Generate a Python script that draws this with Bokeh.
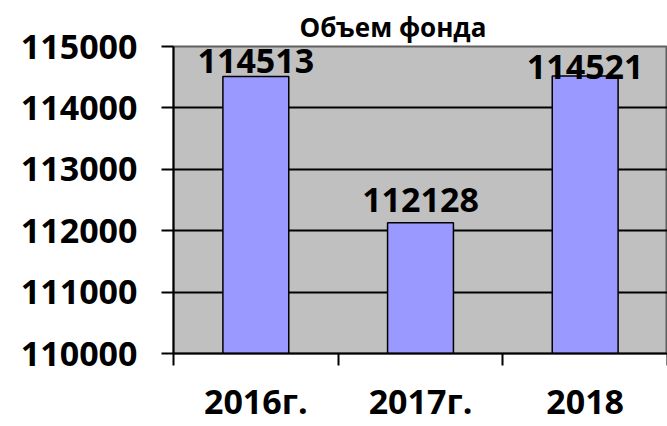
from bokeh.plotting import figure
from bokeh.models import ColumnDataSource, FixedTicker, Range1d
from bokeh.core.properties import value
from bokeh.embed import file_html
from bokeh.resources import INLINE

categories = ["2016г.", "2017г.", "2018"]
volumes = [114513, 112128, 114521]
y_ticks = [110000, 111000, 112000, 113000, 114000, 115000]

FONT = "Open Sans"
Y0, Y1 = y_ticks[0], y_ticks[-1]

xs = [i + 0.5 for i in range(len(categories))]
src = ColumnDataSource(dict(
    x=xs, top=volumes, label=[str(v) for v in volumes],
    yoff=[-3, -11, 3],
))

p = figure(width=667, height=426, output_backend="svg", toolbar_location=None,
           x_range=Range1d(0, len(categories)), y_range=Range1d(Y0, Y1),
           min_border_left=173, min_border_right=0, min_border_bottom=72, min_border_top=46)

p.background_fill_color = "#c0c0c0"
p.border_fill_color = "white"
p.outline_line_color = "#606060"
p.outline_line_width = 2

p.title.text = "Объем фонда"
p.title.text_font = FONT
p.title.text_font_style = "bold"
p.title.text_font_size = "26px"
p.title.text_color = "black"
p.title.align = "left"
p.title.offset = 126
p.title.standoff = 4

p.vbar(x="x", top="top", bottom=Y0, width=0.4, source=src,
       fill_color="#9999ff", line_color="black", line_width=1.5)

p.text(x="x", y="top", text="label", source=src, y_offset="yoff",
       text_align="center", text_baseline="bottom",
       text_font=value(FONT), text_font_style="bold", text_font_size="34px",
       text_color="black")

# x axis
p.xaxis.ticker = FixedTicker(ticks=xs, minor_ticks=list(range(len(categories) + 1)))
p.xaxis.major_label_overrides = {x: c for x, c in zip(xs, categories)}
p.xaxis.major_tick_out = 0
p.xaxis.major_tick_in = 0
p.xaxis.minor_tick_out = 12
p.xaxis.minor_tick_in = 0
p.xaxis.minor_tick_line_color = "black"
p.xaxis.minor_tick_line_width = 2
p.xaxis.axis_line_color = "black"
p.xaxis.axis_line_width = 2
p.xaxis.major_label_standoff = 12
p.xaxis.major_label_text_font = FONT
p.xaxis.major_label_text_font_style = "bold"
p.xaxis.major_label_text_font_size = "34px"
p.xaxis.major_label_text_baseline = "middle"
p.xaxis.major_label_text_color = "black"
p.xgrid.grid_line_color = None

# y axis
p.yaxis.ticker = FixedTicker(ticks=y_ticks)
p.yaxis.minor_tick_line_color = None
p.yaxis.major_tick_out = 12
p.yaxis.major_tick_in = 0
p.yaxis.major_tick_line_color = "black"
p.yaxis.major_tick_line_width = 2
p.yaxis.axis_line_color = "black"
p.yaxis.axis_line_width = 2
p.yaxis.major_label_standoff = 24
p.yaxis.major_label_text_font = FONT
p.yaxis.major_label_text_font_style = "bold"
p.yaxis.major_label_text_font_size = "34px"
p.yaxis.major_label_text_color = "black"
p.yaxis.formatter.use_scientific = False
p.ygrid.grid_line_color = "black"
p.ygrid.grid_line_width = 2

open("out.html", "w").write(file_html(p, INLINE))
